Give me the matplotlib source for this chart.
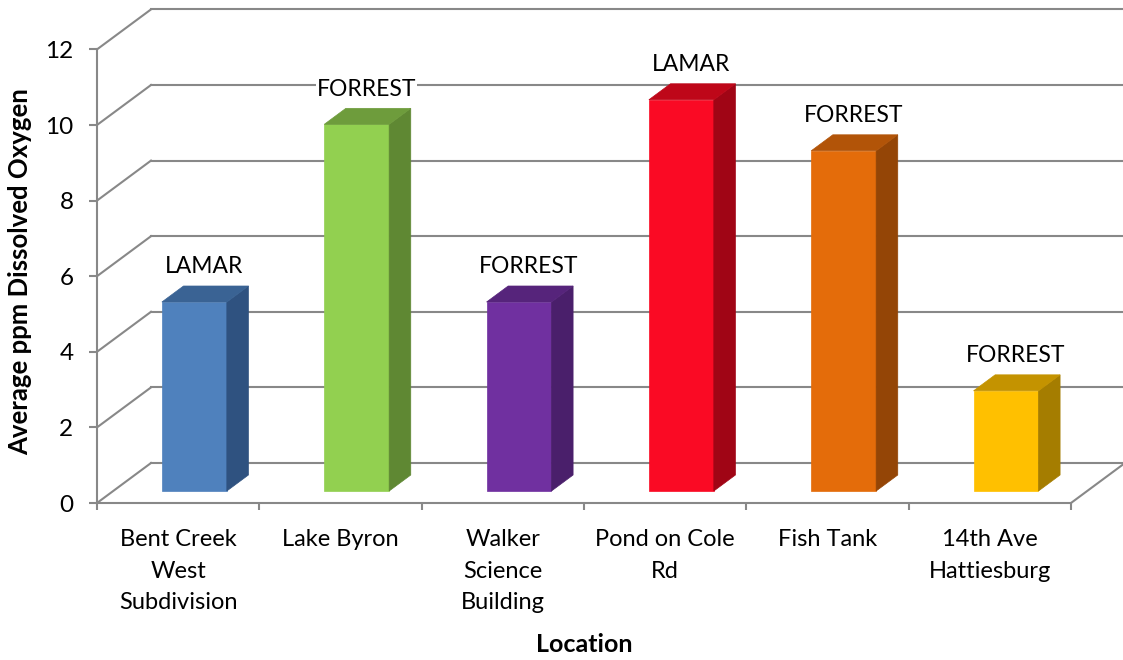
import numpy as np
from matplotlib import pyplot as plt
from matplotlib.patches import Polygon

# data
locations = ['Bent Creek\nWest\nSubdivision', 'Lake Byron', 'Walker\nScience\nBuilding',
             'Pond on Cole\nRd', 'Fish Tank', '14th Ave\nHattiesburg']
oxygen = [5.0, 9.7, 5.0, 10.35, 9.0, 2.65]
county = ['LAMAR', 'FORREST', 'FORREST', 'LAMAR', 'FORREST', 'FORREST']
yticks = [0, 2, 4, 6, 8, 10, 12]

front_col = ['#4F81BD', '#92D050', '#7030A0', '#FA0A24', '#E46C0A', '#FFC000']
top_col   = ['#3A6394', '#6E9C3C', '#56247B', '#BE0719', '#B25408', '#C49300']
side_col  = ['#2F5280', '#5F8833', '#4A1F6B', '#A00515', '#944506', '#A57D00']

plt.rcParams['font.family'] = ['Lato', 'DejaVu Sans']

# fake 3d: oblique shift for one unit of depth
DX = 54 / 162.33     # in category units
DY = 40 / 37.8       # in value units
d0, d1 = 0.3, 0.7    # bar depth range
w0, w1 = 0.3, 0.7    # bar width range inside its category
grid = '#888888'
glw = 1.5

def proj(x, d, v):
    return (x + d * DX, v + d * DY)

W, H = 1123, 660
fig = plt.figure(figsize=(W / 100, H / 100), dpi=100)
ax = fig.add_axes([97 / W, (H - 503) / H, (6 + DX) * 162.33 / W, (12 + DY) * 37.8 / H])
ax.set_xlim(0, 6 + DX)
ax.set_ylim(0, 12 + DY)

# back wall + side wall gridlines
for v in yticks:
    ax.plot([DX, 6 + DX], [v + DY, v + DY], color=grid, lw=glw, clip_on=False, zorder=1)
    ax.plot([0, DX], [v, v + DY], color=grid, lw=glw, clip_on=False, zorder=1)
# floor right edge
ax.plot([6, 6 + DX], [0, DY], color=grid, lw=glw, clip_on=False, zorder=1)

# bars
for i, v in enumerate(oxygen):
    xl, xr = i + w0, i + w1
    front = [proj(xl, d0, 0), proj(xr, d0, 0), proj(xr, d0, v), proj(xl, d0, v)]
    side = [proj(xr, d0, 0), proj(xr, d1, 0), proj(xr, d1, v), proj(xr, d0, v)]
    top = [proj(xl, d0, v), proj(xr, d0, v), proj(xr, d1, v), proj(xl, d1, v)]
    for pts, c in [(front, front_col[i]), (side, side_col[i]), (top, top_col[i])]:
        ax.add_patch(Polygon(pts, closed=True, facecolor=c, edgecolor=c, lw=0.5, zorder=3))
    lx, ly = proj(i + 0.5, d0, v + 1.25)
    ax.text(lx + 0.06, ly - d0 * DY, county[i], ha='center', va='center', fontsize=16.5,
            zorder=5, bbox=dict(facecolor='white', edgecolor='none', pad=0.5))

# axes
for s in ['top', 'right']:
    ax.spines[s].set_visible(False)
ax.spines['left'].set_bounds(0, 12)
ax.spines['bottom'].set_bounds(0, 6)
for s in ['left', 'bottom']:
    ax.spines[s].set_color(grid)
    ax.spines[s].set_linewidth(glw)

ax.set_yticks(yticks)
ax.tick_params(axis='y', direction='out', length=6, width=glw, color=grid, labelsize=17.5, pad=11)
ax.set_xticks(np.arange(7))
ax.set_xticklabels([])
ax.set_xticks(np.arange(6) + 0.5, minor=True)
ax.set_xticklabels(locations, minor=True, fontsize=17, linespacing=1.6)
ax.tick_params(axis='x', which='major', direction='out', length=5, width=glw, color=grid)
ax.tick_params(axis='x', which='minor', length=0, pad=19)

ax.set_xlabel('Location', fontsize=18, fontweight='bold', va='center')
ax.xaxis.set_label_coords(3 / (6 + DX), (503 - 645) / ((12 + DY) * 37.8))
ax.set_ylabel('Average ppm Dissolved Oxygen', fontsize=18.5, fontweight='bold', va='center')
ax.yaxis.set_label_coords((20 - 97) / ((6 + DX) * 162.33), (503 - 272) / ((12 + DY) * 37.8))

plt.savefig('out.png', dpi=100)
